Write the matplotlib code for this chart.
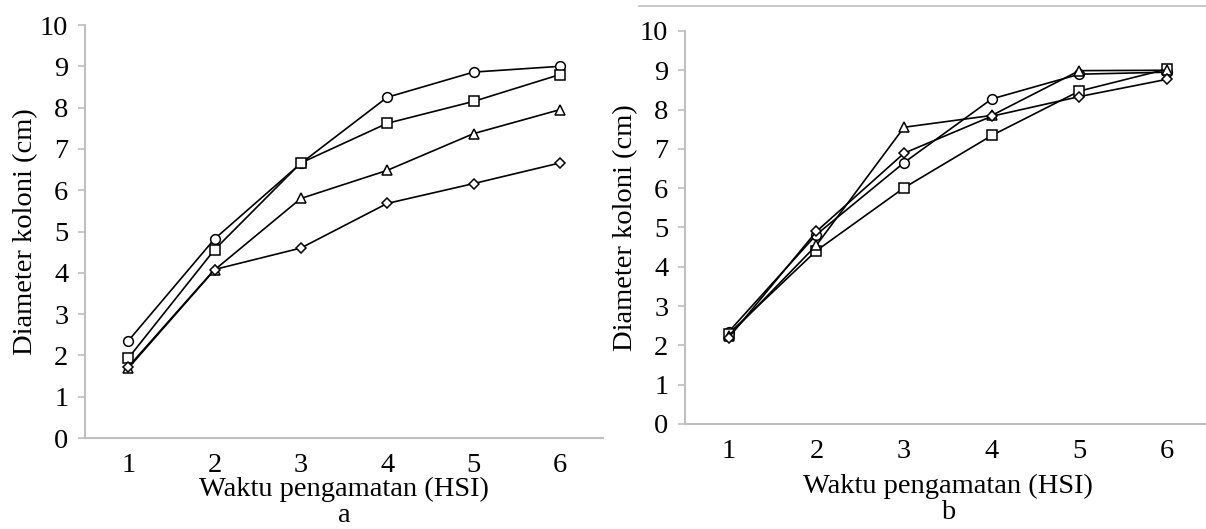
import matplotlib.pyplot as plt
from matplotlib.lines import Line2D

plt.rcParams['font.family'] = ['Liberation Serif', 'DejaVu Serif']

# observation days
hari = [1, 2, 3, 4, 5, 6]

# panel a
a_circle = [2.35, 4.82, 6.65, 8.25, 8.86, 9.00]
a_square = [1.93, 4.56, 6.66, 7.62, 8.15, 8.80]
a_triangle = [1.69, 4.07, 5.80, 6.48, 7.37, 7.95]
a_diamond = [1.72, 4.08, 4.60, 5.68, 6.16, 6.66]

# panel b
b_circle = [2.35, 4.82, 6.65, 8.27, 8.90, 8.95]
b_square = [2.30, 4.41, 6.01, 7.34, 8.47, 9.03]
b_triangle = [2.25, 4.55, 7.55, 7.85, 8.99, 9.00]
b_diamond = [2.20, 4.90, 6.89, 7.83, 8.33, 8.77]

y_ticks = list(range(0, 11))
x_label = "Waktu pengamatan (HSI)"
y_label = "Diameter koloni (cm)"

grey = '#bfbfbf'
fs = 20.5


def draw_panel(ax, series, panel, xlab_y):
    styles = [('o', 7), ('s', 6.5), ('^', 7), ('D', 5)]
    for vals, (mk, ms) in zip(series, styles):
        ax.plot(hari, vals, color='black', lw=1.2, marker=mk, ms=ms,
                mfc='white', mec='black', mew=1.1, clip_on=False)
    ax.set_xlim(0.5, 6.5)
    ax.set_ylim(0, 10)
    ax.set_xticks(hari)
    ax.set_yticks(y_ticks)
    for s in ['top', 'right']:
        ax.spines[s].set_visible(False)
    for s in ['left', 'bottom']:
        ax.spines[s].set_color(grey)
        ax.spines[s].set_linewidth(1.5)
    ax.tick_params(axis='y', direction='out', length=5, width=1.2,
                   color=grey, labelsize=fs, pad=7)
    ax.tick_params(axis='x', length=0, labelsize=fs, pad=11)
    ax.set_ylabel(y_label, fontsize=fs, labelpad=1)
    # axis title with the panel letter underneath
    ax.set_xlabel(x_label + "\n" + panel, fontsize=fs, linespacing=1.05)
    ax.xaxis.label.set_va('bottom')
    ax.xaxis.set_label_coords(0.5, xlab_y)


fig = plt.figure(figsize=(12.06, 5.29), dpi=100)

ax1 = fig.add_axes([0.0705, 0.172, 0.4295, 0.7807])
draw_panel(ax1, [a_circle, a_square, a_triangle, a_diamond], "a", -0.218)

ax2 = fig.add_axes([0.568, 0.1985, 0.436, 0.743])
draw_panel(ax2, [b_circle, b_square, b_triangle, b_diamond], "b", -0.257)

# thin rule across the top of the right half
fig.add_artist(Line2D([0.53, 1.0], [1 - 6 / 529, 1 - 6 / 529],
                      transform=fig.transFigure, color=grey, lw=1.2))

fig.savefig('out.png', dpi=100)
plt.close(fig)
